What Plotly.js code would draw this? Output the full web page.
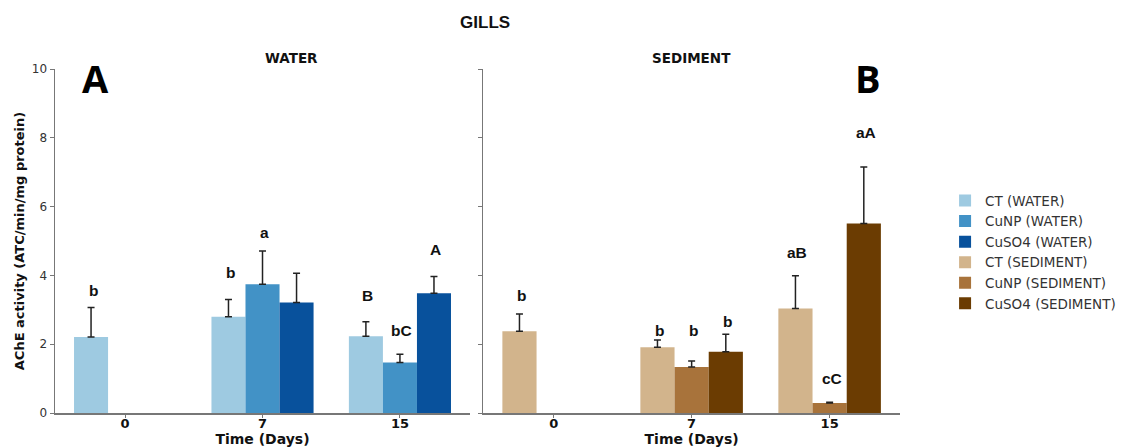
<!DOCTYPE html>
<html>
<head>
<meta charset="utf-8">
<script src="https://cdn.plot.ly/plotly-3.0.1.min.js"></script>
<style>html,body{margin:0;padding:0;background:#fff;}#chart{width:1123px;height:448px;}</style>
</head>
<body>
<div id="chart"></div>
<script>
// ---- data ----
var days = ["0", "7", "15"];
var seriesNames = ["CT", "CuNP", "CuSO4"];

var waterCT = [2.21, 2.80, 2.23];
var waterCuNP = [null, 3.74, 1.47];
var waterCuSO4 = [null, 3.21, 3.48];
var waterCTerr = [0.86, 0.50, 0.42];
var waterCuNPerr = [null, 0.97, 0.24];
var waterCuSO4err = [null, 0.85, 0.49];

var sedCT = [2.38, 1.91, 3.04];
var sedCuNP = [null, 1.34, 0.29];
var sedCuSO4 = [null, 1.78, 5.51];
var sedCTerr = [0.50, 0.21, 0.95];
var sedCuNPerr = [null, 0.17, 0.02];
var sedCuSO4err = [null, 0.51, 1.64];

// significance letters [series index, day index, text, label height]
var waterLetters = [[0, 0, "b", 3.57], [0, 1, "b", 4.08], [1, 1, "a", 5.24], [0, 2, "B", 3.43], [1, 2, "bC", 2.41], [2, 2, "A", 4.74]];
var sedLetters = [[0, 0, "b", 3.41], [0, 1, "b", 2.41], [1, 1, "b", 2.41], [2, 1, "b", 2.65], [0, 2, "aB", 4.66], [1, 2, "cC", 1.0], [2, 2, "aA", 8.14]];

var waterColors = ["#9ecae1", "#4292c6", "#08519c"];
var sedColors = ["#d2b48c", "#a8733b", "#6b3c02"];

// ---- build ----
var errColor = "#222";
function mk(name, y, err, color, xa, ya) {
  return {
    type: "bar", name: name, x: days, y: y,
    xaxis: xa, yaxis: ya,
    marker: {color: color, line: {width: 0}},
    error_y: {type: "data", symmetric: false, array: err, arrayminus: err.map(function(){return 0;}),
              color: errColor, thickness: 1.5, width: 3.5},
    hoverinfo: "x+y+name"
  };
}
var waterY = [waterCT, waterCuNP, waterCuSO4];
var waterE = [waterCTerr, waterCuNPerr, waterCuSO4err];
var sedY = [sedCT, sedCuNP, sedCuSO4];
var sedE = [sedCTerr, sedCuNPerr, sedCuSO4err];
var traces = [];
for (var i = 0; i < 3; i++) traces.push(mk(seriesNames[i] + " (WATER)", waterY[i], waterE[i], waterColors[i], "x", "y"));
for (var i = 0; i < 3; i++) traces.push(mk(seriesNames[i] + " (SEDIMENT)", sedY[i], sedE[i], sedColors[i], "x2", "y2"));

var bargap = 0.257;
var slotW = (1 - bargap) / 3;
var letterFont = {family: "Liberation Sans, Arial, sans-serif", size: 15.5, color: "#111", weight: 700};
var annotations = [];
function addLetters(list, xr, yr) {
  list.forEach(function(l) {
    annotations.push({
      xref: xr, yref: yr, x: l[1] + (l[0] - 1) * slotW, y: l[3],
      text: "<b>" + l[2] + "</b>", showarrow: false, font: letterFont,
      xanchor: "center", yanchor: "middle", xshift: 2
    });
  });
}
addLetters(waterLetters, "x", "y");
addLetters(sedLetters, "x2", "y2");

var dom1 = [0, 0.3886];
var dom2 = [0.401, 0.7912];
var panelFont = {family: "DejaVu Sans, sans-serif", size: 13.5, color: "#111"};
annotations.push({xref: "paper", yref: "paper", x: (dom1[0] + dom1[1]) / 2, y: 1, yanchor: "bottom", yshift: 1,
  text: "<b>WATER</b>", showarrow: false, font: panelFont});
annotations.push({xref: "paper", yref: "paper", x: (dom2[0] + dom2[1]) / 2, y: 1, yanchor: "bottom", yshift: 1,
  text: "<b>SEDIMENT</b>", showarrow: false, font: panelFont});
var bigFont = {family: "Open Sans, sans-serif", size: 38, color: "#000", weight: 700};
annotations.push({xref: "paper", yref: "paper", x: 0.0375, y: 0.9747, xanchor: "center", yanchor: "middle",
  text: "<b>A</b>", showarrow: false, font: bigFont});
annotations.push({xref: "paper", yref: "paper", x: 0.7612, y: 0.9747, xanchor: "center", yanchor: "middle",
  text: "<b>B</b>", showarrow: false, font: bigFont});

var axColor = "#777";
var tickFontX = {family: "DejaVu Sans, sans-serif", size: 13, color: "#111", weight: 700};
var tickFontY = {family: "DejaVu Sans, sans-serif", size: 12, color: "#333"};
var xTitleFont = {family: "DejaVu Sans, sans-serif", size: 14, color: "#111", weight: 700};
function xax(dom, anchor) {
  return {domain: dom, anchor: anchor, type: "category", range: [-0.51, 2.51],
    showline: true, linecolor: axColor, linewidth: 1.5, mirror: false,
    ticks: "outside", ticklen: 3, tickcolor: axColor, tickwidth: 1, ticklabelstandoff: -5,
    tickfont: tickFontX, showgrid: false, zeroline: false,
    title: {text: "<b>Time (Days)</b>", font: xTitleFont, standoff: 0}, automargin: false, fixedrange: true};
}
function yax(anchor, labels) {
  return {anchor: anchor, domain: [0, 1], range: [0, 10], tickvals: [0, 2, 4, 6, 8, 10],
    showline: true, linecolor: axColor, linewidth: 1.5, ticks: "outside", ticklen: 4, tickcolor: axColor, tickwidth: 1,
    showticklabels: labels, tickfont: tickFontY, showgrid: false, zeroline: false, automargin: false, fixedrange: true};
}
var ya = yax("x", true);
ya.title = {text: "<b>AChE activity (ATC/min/mg protein)</b>", font: {family: "DejaVu Sans, sans-serif", size: 13, color: "#111", weight: 700}, standoff: 4};
var ya2 = yax("x2", false);

var layout = {
  width: 1123, height: 448,
  margin: {l: 55, r: 0, t: 69, b: 35, pad: 0},
  paper_bgcolor: "#fff", plot_bgcolor: "#fff",
  title: {text: "<b>GILLS</b>", x: 0.432, xanchor: "center", y: 0.951, yanchor: "middle",
    font: {family: "Liberation Sans, Arial, sans-serif", size: 17, color: "#111", weight: 700}},
  barmode: "group", bargap: bargap, bargroupgap: 0,
  xaxis: xax(dom1, "y"), yaxis: ya,
  xaxis2: xax(dom2, "y2"), yaxis2: ya2,
  showlegend: true,
  legend: {x: 0.8334, y: 0.662, xanchor: "left", yanchor: "top", bgcolor: "rgba(0,0,0,0)",
    font: {family: "DejaVu Sans, sans-serif", size: 13.5, color: "#333"}, tracegroupgap: 0, itemwidth: 30},
  annotations: annotations
};
Plotly.newPlot("chart", traces, layout, {displayModeBar: false, staticPlot: true});
</script>
</body>
</html>
